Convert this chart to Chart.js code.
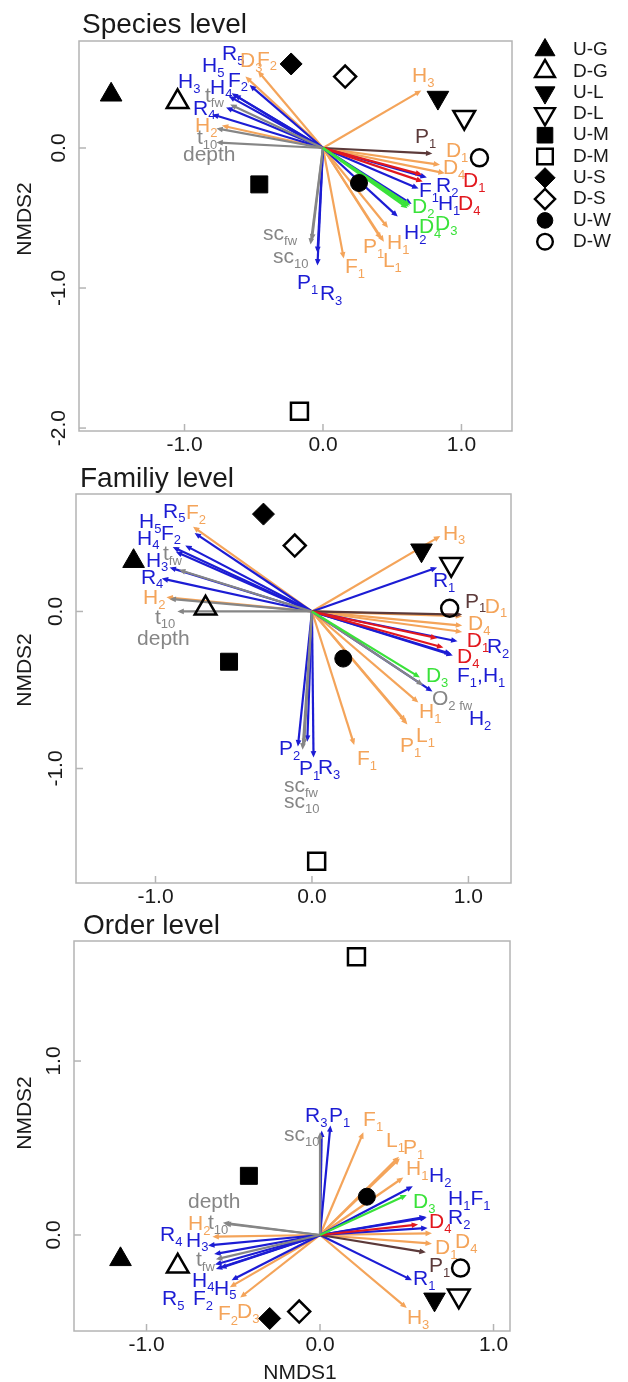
<!DOCTYPE html>
<html>
<head>
<meta charset="utf-8">
<script src="https://cdn.jsdelivr.net/npm/chart.js@4.4.0/dist/chart.umd.min.js"></script>
<style>
  body { margin: 0; background: #fff; }
  #wrap { position: relative; width: 628px; height: 1382px; }
  canvas { position: absolute; left: 0; top: 0; }
</style>
</head>
<body>
<div id="wrap">
  <canvas id="species" width="628" height="1382"></canvas>
  <canvas id="family" width="628" height="1382"></canvas>
  <canvas id="order" width="628" height="1382"></canvas>
</div>
<script>
// ---------- data ----------
const sites = ['U-G', 'D-G', 'U-L', 'D-L', 'U-M', 'D-M', 'U-S', 'D-S', 'U-W', 'D-W'];

// species level
const speciesSiteX = [-1.53, -1.05, 0.83, 1.02, -0.46, -0.17, -0.23, 0.16, 0.26, 1.13];
const speciesSiteY = [0.38, 0.33, 0.36, 0.22, -0.26, -1.88, 0.60, 0.51, -0.25, -0.07];
const speciesArrowVar = ['H_3', 'D_1', 'D_4', 'H_1', 'P_1', 'L_1', 'F_1', 'D_3', 'F_2', 'H_2',
  'R_2', 'F_1', 'H_1', 'H_2', 'P_1', 'R_3', 'F_2', 'H_4', 'H_5', 'H_3', 'R_5', 'R_4',
  'sc_fw', 'sc_10', 't_fw', 'depth', 't_10', 'P_1', 'D_1', 'D_4', 'D_2', 'D_3', 'D_4'];
const speciesArrowGroup = ['orange', 'orange', 'orange', 'orange', 'orange', 'orange', 'orange', 'orange', 'orange', 'orange',
  'blue', 'blue', 'blue', 'blue', 'blue', 'blue', 'blue', 'blue', 'blue', 'blue', 'blue', 'blue',
  'gray', 'gray', 'gray', 'gray', 'gray', 'brown', 'red', 'red', 'green', 'green', 'green'];
const speciesArrowX = [0.71, 0.845, 0.88, 0.47, 0.42, 0.44, 0.15, -0.56, -0.47, -0.73,
  0.75, 0.69, 0.64, 0.54, -0.04, -0.04, -0.53, -0.66, -0.64, -0.68, -0.70, -0.80,
  -0.09, -0.08, -0.67, -0.77, -0.77, 0.79, 0.715, 0.72, 0.63, 0.62, 0.61];
const speciesArrowY = [0.41, -0.12, -0.18, -0.57, -0.65, -0.67, -0.79, 0.51, 0.55, 0.16,
  -0.21, -0.29, -0.40, -0.49, -0.84, -0.75, 0.45, 0.39, 0.38, 0.37, 0.29, 0.24,
  -0.69, -0.66, 0.31, 0.14, 0.04, -0.04, -0.19, -0.24, -0.41, -0.42, -0.43];
const speciesLabelText = ['H_3', 'P_1', 'D_1', 'D_4', 'D_1', 'R_2', 'F_1', 'H_1', 'D_4', 'D_2', 'D_4', 'D_3',
  'H_2', 'H_1', 'P_1', 'L_1', 'F_1', 'P_1', 'R_3', 'sc_fw', 'sc_10', 'R_5', 'D_3', 'F_2', 'H_5', 'H_3',
  't_fw', 'H_4', 'F_2', 'R_4', 'H_2', 't_10', 'depth'];
const speciesLabelGroup = ['orange', 'brown', 'orange', 'orange', 'red', 'blue', 'blue', 'blue', 'red', 'green', 'green', 'green',
  'blue', 'orange', 'orange', 'orange', 'orange', 'blue', 'blue', 'gray', 'gray', 'blue', 'orange', 'orange', 'blue', 'blue',
  'gray', 'blue', 'blue', 'blue', 'orange', 'gray', 'gray'];
const speciesLabelX = [0.643, 0.664, 0.888, 0.866, 1.011, 0.816, 0.693, 0.830, 0.975, 0.643, 0.693, 0.809,
  0.585, 0.462, 0.289, 0.433, 0.159, -0.188, -0.022, -0.433, -0.361, -0.729, -0.599, -0.477, -0.874, -1.047,
  -0.852, -0.816, -0.686, -0.939, -0.924, -0.910, -1.011];
const speciesLabelY = [0.514, 0.079, -0.021, -0.143, -0.236, -0.271, -0.307, -0.400, -0.400, -0.421, -0.564, -0.543,
  -0.607, -0.679, -0.707, -0.807, -0.850, -0.964, -1.043, -0.614, -0.779, 0.671, 0.621, 0.629, 0.586, 0.471,
  0.371, 0.429, 0.479, 0.279, 0.157, 0.071, -0.050];
const speciesXRange = [-1.762, 1.365];
const speciesYRange = [-2.021, 0.764];
const speciesXTicks = [-1, 0, 1];
const speciesYTicks = [-2, -1, 0];

// family level
const familySiteX = [-1.14, -0.68, 0.70, 0.89, -0.53, 0.03, -0.31, -0.11, 0.20, 0.88];
const familySiteY = [0.32, 0.02, 0.39, 0.30, -0.32, -1.59, 0.62, 0.42, -0.30, 0.02];
const familyArrowVar = ['H_3', 'D_1', 'D_4', '', 'H_1', 'P_1', 'L_1', 'F_1', 'F_2', 'H_2',
  'R_1', 'R_2', 'F_1', 'H_1', 'H_2', 'P_2', 'P_1', 'R_3', 'R_5', 'F_2', 'H_5', 'H_4', 'H_3', 'R_4',
  'O_{2 fw}', 'sc_fw', 'sc_10', 't_fw', 'depth', 't_10', 'P_1', 'D_1', 'D_4', 'D_3'];
const familyArrowGroup = ['orange', 'orange', 'orange', 'orange', 'orange', 'orange', 'orange', 'orange', 'orange', 'orange',
  'blue', 'blue', 'blue', 'blue', 'blue', 'blue', 'blue', 'blue', 'blue', 'blue', 'blue', 'blue', 'blue', 'blue',
  'gray', 'gray', 'gray', 'gray', 'gray', 'gray', 'brown', 'red', 'red', 'green'];
const familyArrowX = [0.82, 0.96, 0.96, 0.96, 0.68, 0.60, 0.61, 0.27, -0.76, -0.93,
  0.80, 0.93, 0.90, 0.89, 0.77, -0.09, -0.03, 0.01, -0.75, -0.81, -0.89, -0.87, -0.91, -0.96,
  0.71, -0.06, -0.05, -0.85, -0.91, -0.86, 0.96, 0.80, 0.84, 0.69];
const familyArrowY = [0.48, -0.03, -0.09, -0.13, -0.58, -0.70, -0.72, -0.85, 0.54, 0.09,
  0.28, -0.19, -0.28, -0.27, -0.51, -0.86, -0.83, -0.93, 0.50, 0.42, 0.41, 0.38, 0.28, 0.21,
  -0.47, -0.88, -0.85, 0.265, 0.08, 0.0, -0.02, -0.17, -0.23, -0.42];
const familyLabelText = ['H_3', 'R_1', 'P_1', 'D_1', 'D_4', 'D_1', 'R_2', 'D_4', 'F_1,H_1', 'D_3', 'O_{2 fw}',
  'H_2', 'H_1', 'L_1', 'P_1', 'F_1', 'P_2', 'P_1', 'R_3', 'sc_fw', 'sc_10', 'F_2', 'R_5', 'H_5', 'F_2', 'H_4',
  't_fw', 'H_3', 'R_4', 'H_2', 't_10', 'depth'];
const familyLabelGroup = ['orange', 'blue', 'brown', 'orange', 'orange', 'red', 'blue', 'red', 'blue', 'green', 'gray',
  'blue', 'orange', 'orange', 'orange', 'orange', 'blue', 'blue', 'blue', 'gray', 'gray', 'orange', 'blue', 'blue', 'blue', 'blue',
  'gray', 'blue', 'blue', 'orange', 'gray', 'gray'];
const familyLabelX = [0.837, 0.773, 0.978, 1.105, 0.997, 0.990, 1.118, 0.927, 0.927, 0.728, 0.767,
  1.003, 0.684, 0.665, 0.562, 0.288, -0.211, -0.083, 0.038, -0.179, -0.179, -0.805, -0.952, -1.105, -0.965, -1.118,
  -0.952, -1.061, -1.093, -1.080, -1.003, -1.118];
const familyLabelY = [0.494, 0.194, 0.061, 0.029, -0.080, -0.188, -0.226, -0.290, -0.411, -0.411, -0.557,
  -0.685, -0.640, -0.793, -0.857, -0.939, -0.876, -1.003, -0.997, -1.111, -1.213, 0.627, 0.634, 0.570, 0.494, 0.462,
  0.366, 0.322, 0.214, 0.086, -0.041, -0.175];
const familyXRange = [-1.508, 1.272];
const familyYRange = [-1.729, 0.748];
const familyXTicks = [-1, 0, 1];
const familyYTicks = [-1, 0];

// order level
const orderSiteX = [-1.15, -0.82, 0.66, 0.80, -0.41, 0.21, -0.29, -0.12, 0.27, 0.81];
const orderSiteY = [-0.14, -0.18, -0.37, -0.35, 0.34, 1.60, -0.48, -0.44, 0.22, -0.19];
const orderArrowVar = ['F_1', 'L_1', 'P_1', 'H_1', 'D_4', 'D_1', 'H_3', 'H_2', 'F_2', 'D_3',
  'P_1', 'R_3', 'H_2', 'H_1', 'F_1', 'R_2', 'R_1', 'R_4', 'H_3', 'H_4', 'R_5', 'F_2', 'H_5',
  'sc_10', 'depth', 't_10', 't_fw', 'P_1', 'D_4', 'D_3'];
const orderArrowGroup = ['orange', 'orange', 'orange', 'orange', 'orange', 'orange', 'orange', 'orange', 'orange', 'orange',
  'blue', 'blue', 'blue', 'blue', 'blue', 'blue', 'blue', 'blue', 'blue', 'blue', 'blue', 'blue', 'blue',
  'gray', 'gray', 'gray', 'gray', 'brown', 'red', 'green'];
const orderArrowX = [0.25, 0.455, 0.46, 0.48, 0.645, 0.645, 0.50, -0.62, -0.52, -0.46,
  0.06, 0.01, 0.535, 0.615, 0.61, 0.62, 0.53, -0.645, -0.61, -0.605, -0.60, -0.576, -0.51,
  0.0, -0.56, -0.55, -0.60, 0.61, 0.565, 0.50];
const orderArrowY = [0.59, 0.45, 0.44, 0.33, 0.01, -0.05, -0.42, -0.01, -0.30, -0.36,
  0.63, 0.60, 0.28, 0.10, 0.105, 0.04, -0.26, -0.06, -0.11, -0.17, -0.195, -0.19, -0.26,
  0.59, 0.07, 0.065, -0.14, -0.10, 0.06, 0.23];
const orderLabelText = ['R_3', 'P_1', 'sc_10', 'F_1', 'L_1', 'P_1', 'H_1', 'H_2', 'D_3', 'H_1F_1', 'R_2', 'D_4',
  'D_4', 'D_1', 'P_1', 'R_1', 'H_3', 'depth', 'H_2', 't_10', 'R_4', 'H_3', 't_fw', 'H_4', 'H_5', 'R_5', 'F_2',
  'F_2', 'D_3'];
const orderLabelGroup = ['blue', 'blue', 'gray', 'orange', 'orange', 'orange', 'orange', 'blue', 'green', 'blue', 'blue', 'red',
  'orange', 'orange', 'brown', 'blue', 'orange', 'gray', 'orange', 'gray', 'blue', 'blue', 'gray', 'blue', 'blue', 'blue', 'blue',
  'orange', 'orange'];
const orderLabelX = [-0.086, 0.052, -0.207, 0.248, 0.380, 0.478, 0.496, 0.628, 0.536, 0.738, 0.738, 0.628,
  0.778, 0.663, 0.628, 0.536, 0.501, -0.761, -0.761, -0.646, -0.922, -0.772, -0.715, -0.738, -0.611, -0.911, -0.732,
  -0.588, -0.478];
const orderLabelY = [0.684, 0.684, 0.575, 0.661, 0.540, 0.500, 0.379, 0.339, 0.190, 0.207, 0.098, 0.075,
  -0.040, -0.075, -0.178, -0.253, -0.477, 0.190, 0.063, 0.069, 0.0, -0.034, -0.144, -0.264, -0.310, -0.368, -0.368,
  -0.454, -0.443];
const orderXRange = [-1.418, 1.095];
const orderYRange = [-0.552, 1.690];
const orderXTicks = [-1, 0, 1];
const orderYTicks = [0, 1];

// ---------- styles ----------
const FONT = "'Liberation Sans', Arial, sans-serif";
const groupColor = {
  blue: '#1c1cd4',
  orange: '#f4a45a',
  red: '#e2181e',
  green: '#3ae23a',
  gray: '#868686',
  brown: '#5c3a3a'
};
const siteMarker = [
  { style: 'triangle', rot: 0, r: 12.5, fill: true },
  { style: 'triangle', rot: 0, r: 12.5, fill: false },
  { style: 'triangle', rot: 180, r: 12.5, fill: true },
  { style: 'triangle', rot: 180, r: 12.5, fill: false },
  { style: 'rect', rot: 0, r: 12, fill: true },
  { style: 'rect', rot: 0, r: 12, fill: false },
  { style: 'rectRot', rot: 0, r: 11, fill: true },
  { style: 'rectRot', rot: 0, r: 11, fill: false },
  { style: 'circle', rot: 0, r: 8.5, fill: true },
  { style: 'circle', rot: 0, r: 8.5, fill: false }
];

function parseLabel(s) {
  const parts = [];
  let i = 0;
  while (i < s.length) {
    if (s[i] === '_') {
      i++;
      let sub = '';
      if (s[i] === '{') {
        const j = s.indexOf('}', i);
        sub = s.slice(i + 1, j);
        i = j + 1;
      } else {
        while (i < s.length && /[0-9a-z]/.test(s[i])) sub += s[i++];
      }
      parts.push({ t: sub, sub: true });
    } else {
      let b = '';
      while (i < s.length && s[i] !== '_') b += s[i++];
      parts.push({ t: b, sub: false });
    }
  }
  return parts;
}

function drawLabel(ctx, text, x, y, color) {
  let cx = x;
  ctx.fillStyle = color;
  ctx.textAlign = 'left';
  ctx.textBaseline = 'middle';
  parseLabel(text).forEach(p => {
    ctx.font = (p.sub ? '13px ' : '21px ') + FONT;
    ctx.fillText(p.t, cx, p.sub ? y + 7 : y);
    cx += ctx.measureText(p.t).width;
  });
}

function drawArrow(ctx, x0, y0, x1, y1, color) {
  const ang = Math.atan2(y1 - y0, x1 - x0);
  const len = 7, half = 0.42;
  ctx.strokeStyle = color;
  ctx.fillStyle = color;
  ctx.lineWidth = 2.2;
  ctx.beginPath();
  ctx.moveTo(x0, y0);
  ctx.lineTo(x1 - Math.cos(ang) * 3, y1 - Math.sin(ang) * 3);
  ctx.stroke();
  ctx.beginPath();
  ctx.moveTo(x1, y1);
  ctx.lineTo(x1 - len * Math.cos(ang - half), y1 - len * Math.sin(ang - half));
  ctx.lineTo(x1 - len * Math.cos(ang + half), y1 - len * Math.sin(ang + half));
  ctx.closePath();
  ctx.fill();
}

function makeBiplot(p) {
  return {
    id: 'biplot',
    beforeDatasetsDraw(chart) {
      const { ctx, scales: { x, y } } = chart;
      const x0 = x.getPixelForValue(0), y0 = y.getPixelForValue(0);
      ctx.save();
      p.arrowX.forEach((ax, i) => {
        drawArrow(ctx, x0, y0, x.getPixelForValue(ax), y.getPixelForValue(p.arrowY[i]), groupColor[p.arrowGroup[i]]);
      });
      ctx.restore();
    },
    afterDatasetsDraw(chart) {
      const { ctx, scales: { x, y } } = chart;
      ctx.save();
      p.labelText.forEach((t, i) => {
        drawLabel(ctx, t, x.getPixelForValue(p.labelX[i]), y.getPixelForValue(p.labelY[i]), groupColor[p.labelGroup[i]]);
      });
      ctx.restore();
    },
    afterDraw(chart) {
      const { ctx, chartArea: a, scales: { x, y } } = chart;
      ctx.save();
      // frame
      ctx.strokeStyle = '#b4b4b4';
      ctx.lineWidth = 1.5;
      ctx.strokeRect(a.left, a.top, a.right - a.left, a.bottom - a.top);
      ctx.fillStyle = '#1a1a1a';
      ctx.font = '21px ' + FONT;
      ctx.textAlign = 'center';
      ctx.textBaseline = 'middle';
      // x ticks
      p.xTicks.forEach(v => {
        const px = x.getPixelForValue(v);
        ctx.beginPath();
        ctx.moveTo(px, a.bottom);
        ctx.lineTo(px, a.bottom - 7);
        ctx.stroke();
        ctx.fillText(v.toFixed(1), px, a.bottom + 14);
      });
      // y ticks, labels rotated
      p.yTicks.forEach(v => {
        const py = y.getPixelForValue(v);
        ctx.beginPath();
        ctx.moveTo(a.left, py);
        ctx.lineTo(a.left + 7, py);
        ctx.stroke();
        ctx.save();
        ctx.translate(a.left - 20, py);
        ctx.rotate(-Math.PI / 2);
        ctx.fillText(v.toFixed(1), 0, 0);
        ctx.restore();
      });
      // axis titles
      ctx.save();
      ctx.translate(25, p.yTitleY);
      ctx.rotate(-Math.PI / 2);
      ctx.fillText('NMDS2', 0, 0);
      ctx.restore();
      if (p.xTitle) ctx.fillText(p.xTitle, p.xTitlePos[0], p.xTitlePos[1]);
      // panel title
      ctx.font = '28px ' + FONT;
      ctx.textAlign = 'left';
      ctx.textBaseline = 'alphabetic';
      ctx.fillText(p.title, p.titlePos[0], p.titlePos[1]);
      // legend
      if (p.legend) {
        const draw = Chart.helpers && Chart.helpers.drawPoint;
        sites.forEach((s, i) => {
          const m = siteMarker[i];
          const ly = 50 + i * 21.3;
          ctx.fillStyle = m.fill ? '#000' : 'rgba(0,0,0,0)';
          ctx.strokeStyle = '#000';
          ctx.lineWidth = m.fill ? 1 : 2.4;
          draw(ctx, { pointStyle: m.style, rotation: m.rot, radius: m.r * 0.92, borderWidth: ctx.lineWidth }, 545, ly);
          ctx.fillStyle = '#1a1a1a';
          ctx.font = '19px ' + FONT;
          ctx.textBaseline = 'middle';
          ctx.fillText(s, 573, ly);
        });
      }
      ctx.restore();
    }
  };
}

function buildChart(id, p) {
  const datasets = sites.map((s, i) => {
    const m = siteMarker[i];
    return {
      label: s,
      data: [{ x: p.siteX[i], y: p.siteY[i] }],
      pointStyle: m.style,
      pointRotation: m.rot,
      pointRadius: m.r,
      pointHoverRadius: m.r,
      pointBackgroundColor: m.fill ? '#000' : 'rgba(0,0,0,0)',
      pointBorderColor: '#000',
      pointBorderWidth: m.fill ? 1 : 2.5,
      clip: false
    };
  });
  return new Chart(document.getElementById(id), {
    type: 'scatter',
    data: { datasets },
    options: {
      responsive: false,
      animation: false,
      events: [],
      layout: { padding: p.padding },
      plugins: { legend: { display: false }, tooltip: { enabled: false } },
      scales: {
        x: { type: 'linear', min: p.xRange[0], max: p.xRange[1], display: false },
        y: { type: 'linear', min: p.yRange[0], max: p.yRange[1], display: false }
      }
    },
    plugins: [makeBiplot(p)]
  });
}

buildChart('species', {
  siteX: speciesSiteX, siteY: speciesSiteY,
  arrowGroup: speciesArrowGroup, arrowX: speciesArrowX, arrowY: speciesArrowY,
  labelText: speciesLabelText, labelGroup: speciesLabelGroup, labelX: speciesLabelX, labelY: speciesLabelY,
  xRange: speciesXRange, yRange: speciesYRange, xTicks: speciesXTicks, yTicks: speciesYTicks,
  padding: { left: 79, top: 41, right: 116, bottom: 951 },
  title: 'Species level', titlePos: [82, 33], yTitleY: 219, legend: true
});

buildChart('family', {
  siteX: familySiteX, siteY: familySiteY,
  arrowGroup: familyArrowGroup, arrowX: familyArrowX, arrowY: familyArrowY,
  labelText: familyLabelText, labelGroup: familyLabelGroup, labelX: familyLabelX, labelY: familyLabelY,
  xRange: familyXRange, yRange: familyYRange, xTicks: familyXTicks, yTicks: familyYTicks,
  padding: { left: 76, top: 494, right: 117, bottom: 499 },
  title: 'Familiy level', titlePos: [80, 487], yTitleY: 670
});

buildChart('order', {
  siteX: orderSiteX, siteY: orderSiteY,
  arrowGroup: orderArrowGroup, arrowX: orderArrowX, arrowY: orderArrowY,
  labelText: orderLabelText, labelGroup: orderLabelGroup, labelX: orderLabelX, labelY: orderLabelY,
  xRange: orderXRange, yRange: orderYRange, xTicks: orderXTicks, yTicks: orderYTicks,
  padding: { left: 74, top: 941, right: 118, bottom: 51 },
  title: 'Order level', titlePos: [83, 934], yTitleY: 1113,
  xTitle: 'NMDS1', xTitlePos: [300, 1373]
});
</script>
</body>
</html>
